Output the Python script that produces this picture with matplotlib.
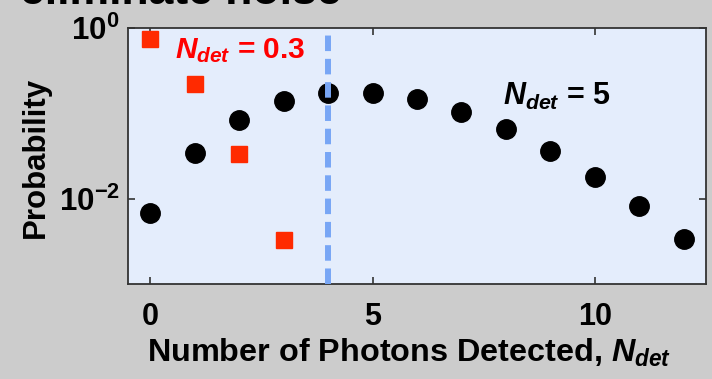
import matplotlib
matplotlib.use("Agg")
import matplotlib.pyplot as plt

plt.rcParams['font.family'] = ['Liberation Sans', 'DejaVu Sans']
plt.rcParams['mathtext.fontset'] = 'custom'
plt.rcParams['mathtext.rm'] = 'Liberation Sans:bold'
plt.rcParams['mathtext.it'] = 'Liberation Sans:italic:bold'
plt.rcParams['mathtext.bf'] = 'Liberation Sans:bold'

# Data
k_high = list(range(13))
p_high = [0.0068, 0.034, 0.084, 0.14, 0.175, 0.175, 0.146, 0.104, 0.065, 0.036, 0.018, 0.0083, 0.0034]
k_low = [0, 1, 2, 3]
p_low = [0.74, 0.22, 0.033, 0.0033]
threshold = 4
xticks = [0, 5, 10]
yticks = [1e-2, 1e0]
ytick_labels = [r'$\mathbf{10^{-2}}$', r'$\mathbf{10^{0}}$']

fig = plt.figure(figsize=(7.12, 3.79), dpi=100, facecolor='#cccccc')
ax = fig.add_axes([128/712, 1-284/379, (706-128)/712, (284-28)/379])
ax.set_facecolor('#e4edfc')

ax.plot(k_high, p_high, 'o', color='black', markersize=14, zorder=3)
ax.plot(k_low, p_low, 's', color='#ff2a00', markersize=11.5, zorder=3)
ax.axvline(threshold, color='#78a6f5', linewidth=4.3, dashes=(2.6, 1.3), zorder=4)

ax.set_yscale('log')
ax.set_xlim(-0.5, 12.5)
ax.set_ylim(1e-3, 1)
ax.set_xticks(xticks)
ax.set_xticklabels([str(t) for t in xticks], fontsize=22, fontweight='bold')
ax.set_yticks(yticks)
ax.set_yticklabels(ytick_labels, fontsize=22.5)
ax.yaxis.set_minor_locator(matplotlib.ticker.NullLocator())
ax.tick_params(axis='both', which='major', direction='in', length=5, width=1.2,
               top=True, right=True, color='#333333')
ax.tick_params(axis='x', pad=13)
ax.tick_params(axis='y', pad=6)
for s in ax.spines.values():
    s.set_color('#333333')
    s.set_linewidth(1.3)

fig.text(175/712, 1-58/379, r'$N_{det}$ = 0.3', color='red', fontsize=21.5,
         fontweight='bold', va='baseline', ha='left')
fig.text(503/712, 1-105/379, r'$N_{det}$ = 5', color='black', fontsize=22,
         fontweight='bold', va='baseline', ha='left')

fig.text(36/712, 1-157.5/379, 'Probability', rotation=90, fontsize=22.5,
         fontweight='bold', ha='center', va='center')
fig.text(409/712, 1-362/379, r'Number of Photons Detected, $N_{det}$', fontsize=23.3,
         fontweight='bold', ha='center', va='baseline')

fig.text(341/712, 1-4.5/379, 'eliminate noise', fontsize=32, fontweight='bold',
         ha='right', va='baseline')

fig.savefig('out.png', dpi=100, facecolor=fig.get_facecolor())
